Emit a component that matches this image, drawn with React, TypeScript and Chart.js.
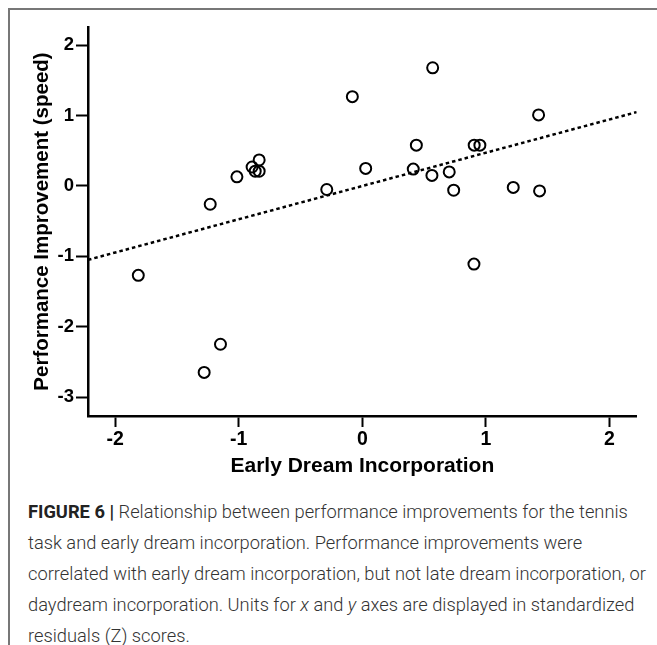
import React, { useEffect, useRef } from "react";
import { Chart, registerables } from "chart.js";

Chart.register(...registerables);

// Early dream incorporation (x, Z score)
const earlyDream = [
  -1.813, -1.231, -1.015, -0.892, -0.867, -0.835, -0.835, -1.148, -1.28,
  -0.288, -0.081, 0.027, 0.412, 0.437, 0.563, 0.569, 0.703, 0.739, 0.905,
  0.951, 0.903, 1.221, 1.426, 1.434,
];
// Performance improvement (speed) (y, Z score)
const perfImprovement = [
  -1.27, -0.26, 0.13, 0.27, 0.21, 0.21, 0.37, -2.25, -2.65, -0.05, 1.27, 0.25,
  0.24, 0.58, 0.15, 1.68, 0.2, -0.06, 0.58, 0.58, -1.11, -0.02, 1.01, -0.07,
];
// Regression line end points
const fitX = [-2.22, 2.22];
const fitY = [-1.05, 1.05];

const xTicks = [-2, -1, 0, 1, 2];
const yTicks = [-3, -2, -1, 0, 1, 2];
const xRange = [-2.22, 2.22];
const yRange = [-3.27, 2.26];

const xTitle = "Early Dream Incorporation";
const yTitle = "Performance Improvement (speed)";

const FONT = "'Liberation Sans', Arial, Helvetica, sans-serif";

export default function App() {
  const canvasRef = useRef<HTMLCanvasElement | null>(null);

  useEffect(() => {
    const canvas = canvasRef.current;
    if (!canvas) return;
    const chart = new Chart(canvas, {
      type: "scatter",
      data: {
        datasets: [
          {
            data: earlyDream.map((x, i) => ({ x, y: perfImprovement[i] })),
            pointRadius: 5.5,
            pointHoverRadius: 5.5,
            pointBorderWidth: 2,
            borderColor: "#000",
            backgroundColor: "rgba(0,0,0,0)",
            pointStyle: "circle",
            order: 1,
          },
          {
            data: fitX.map((x, i) => ({ x, y: fitY[i] })),
            showLine: true,
            borderColor: "#000",
            borderWidth: 2.5,
            borderDash: [3.5, 3],
            pointRadius: 0,
            fill: false,
            order: 2,
          },
        ],
      },
      options: {
        responsive: false,
        animation: false,
        events: [],
        layout: { padding: { left: 0, top: 17, right: 20.3, bottom: 0 } },
        plugins: { legend: { display: false }, tooltip: { enabled: false } },
        scales: {
          x: {
            type: "linear",
            position: "bottom",
            min: xRange[0],
            max: xRange[1],
            afterBuildTicks: (s: any) => {
              s.ticks = xTicks.map((v) => ({ value: v }));
            },
            afterFit: (s: any) => {
              s.height = 74;
            },
            grid: {
              drawOnChartArea: false,
              drawTicks: true,
              tickLength: 11,
              tickWidth: 2,
              tickColor: "#000",
              color: "#000",
            },
            border: { display: true, color: "#000", width: 2.5 },
            ticks: {
              color: "#000",
              font: { family: FONT, size: 19.5, weight: "bold" },
              padding: 1,
              maxRotation: 0,
              autoSkip: false,
            },
            title: {
              display: true,
              text: xTitle,
              color: "#000",
              font: { family: FONT, size: 21, weight: "bold" },
              padding: { top: 0, bottom: 11 },
            },
          },
          y: {
            type: "linear",
            min: yRange[0],
            max: yRange[1],
            afterBuildTicks: (s: any) => {
              s.ticks = yTicks.map((v) => ({ value: v }));
            },
            afterFit: (s: any) => {
              s.width = 78;
            },
            grid: {
              drawOnChartArea: false,
              drawTicks: true,
              tickLength: 12,
              tickWidth: 2,
              tickColor: "#000",
              color: "#000",
            },
            border: { display: true, color: "#000", width: 2.5 },
            ticks: {
              color: "#000",
              font: { family: FONT, size: 18.5, weight: "bold" },
              padding: 2,
              autoSkip: false,
            },
            title: {
              display: true,
              text: yTitle,
              color: "#000",
              font: { family: FONT, size: 20.5, weight: "bold" },
              padding: { top: 20.5, bottom: 0 },
            },
          },
        },
      },
    });
    return () => chart.destroy();
  }, []);

  const captionStyle: React.CSSProperties = {
    position: "absolute",
    left: 18,
    top: 486,
    fontFamily: "Roboto, 'Liberation Sans', Arial, sans-serif",
    fontSize: 18.3,
    fontWeight: 300,
    lineHeight: "31px",
    color: "#333",
    whiteSpace: "nowrap",
  };

  return (
    <div
      style={{
        position: "absolute",
        left: 8,
        top: 8,
        right: 0,
        bottom: 0,
        borderTop: "2px solid #777",
        borderLeft: "2px solid #777",
        overflow: "hidden",
        background: "#fff",
      }}
    >
      <canvas
        ref={canvasRef}
        width={647}
        height={480}
        style={{ position: "absolute", left: 0, top: 0, width: 647, height: 480 }}
      />
      <div style={captionStyle}>
        <div>
          <b style={{ color: "#222", fontWeight: 700 }}>FIGURE 6 |</b>{" "}
          Relationship between performance improvements for the tennis
        </div>
        <div>
          task and early dream incorporation. Performance improvements were
        </div>
        <div>
          correlated with early dream incorporation, but not late dream
          incorporation, or
        </div>
        <div>
          daydream incorporation. Units for <i>x</i> and <i>y</i> axes are
          displayed in standardized
        </div>
        <div>residuals (Z) scores.</div>
      </div>
    </div>
  );
}
